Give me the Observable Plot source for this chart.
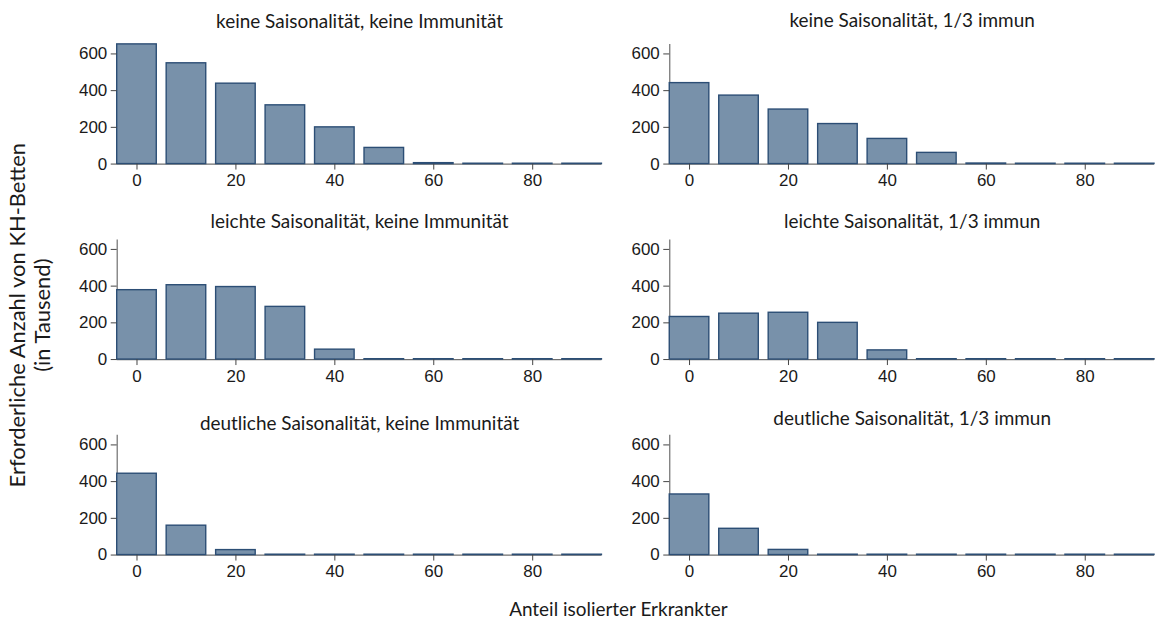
<!DOCTYPE html>
<html><head><meta charset="utf-8">
<script src="https://cdn.jsdelivr.net/npm/d3@7"></script>
<script src="https://cdn.jsdelivr.net/npm/@observablehq/plot@0.6"></script>
<style>
html,body{margin:0;padding:0;background:#fff;overflow:hidden;}
#chart{width:1155px;height:624px;overflow:hidden;position:relative;}
</style></head><body><div id="chart"></div>
<script>
// ---- data ----
const shares = [0, 10, 20, 30, 40, 50, 60, 70, 80, 90];
const seasonality = ["keine Saisonalität", "leichte Saisonalität", "deutliche Saisonalität"];
const immunity = ["keine Immunität", "1/3 immun"];
const keineKeine     = [652, 549, 438, 320, 200, 88, 5, 2, 2, 2];
const keineImmun     = [441, 373, 297, 218, 137, 61, 3, 2, 2, 2];
const leichteKeine   = [378, 405, 395, 287, 54, 2, 2, 2, 2, 2];
const leichteImmun   = [232, 250, 255, 200, 50, 2, 2, 2, 2, 2];
const deutlicheKeine = [443, 160, 27, 2, 2, 2, 2, 2, 2, 2];
const deutlicheImmun = [330, 143, 28, 2, 2, 2, 2, 2, 2, 2];
const xTicks = [0, 20, 40, 60, 80];
const yTicks = [0, 200, 400, 600];
const xLabel = "Anteil isolierter Erkrankter";
const yLabel = ["Erforderliche Anzahl von KH-Betten", "(in Tausend)"];

const series = [
  [seasonality[0], immunity[0], keineKeine],
  [seasonality[0], immunity[1], keineImmun],
  [seasonality[1], immunity[0], leichteKeine],
  [seasonality[1], immunity[1], leichteImmun],
  [seasonality[2], immunity[0], deutlicheKeine],
  [seasonality[2], immunity[1], deutlicheImmun]
];
const rows = series.flatMap(([season, immun, vals]) =>
  vals.map((v, i) => ({season, immun, x: shares[i], y: v})));
const titles = series.map(([season, immun]) => ({season, immun, title: season + ", " + immun}));

// ---- layout / style ----
const tickFont = "'Liberation Sans', Arial, sans-serif";
const textFont = "Lato, 'Open Sans', sans-serif";
const barFill = "#7891aa";
const barStroke = "#2c4e75";
const axisColor = "#6e6e6e";
const halfBar = 4;
// vertical title offset per panel (relative to top of each panel)
const titleShift = {
  "keine Saisonalität|keine Immunität": -22.5,
  "keine Saisonalität|1/3 immun": -24,
  "leichte Saisonalität|keine Immunität": -17.5,
  "leichte Saisonalität|1/3 immun": -18.5,
  "deutliche Saisonalität|keine Immunität": -11.5,
  "deutliche Saisonalität|1/3 immun": -16.5
};

const titleMarks = titles.map(t => Plot.text([t], {
  fx: "immun", fy: "season", text: "title",
  frameAnchor: "top", lineAnchor: "middle", dy: titleShift[t.season + "|" + t.immun],
  fontFamily: textFont, fontSize: 19, fill: "#1a1a1a"
}));

const plot = Plot.plot({
  width: 1158,
  height: 624,
  marginLeft: 117,
  marginRight: 0,
  marginTop: 42.7,
  marginBottom: 67,
  x: {domain: [-halfBar, 94]},
  y: {domain: [0, 652]},
  fx: {domain: immunity, paddingInner: 0.1226, paddingOuter: 0, axis: null},
  fy: {domain: seasonality, paddingInner: 0.387, paddingOuter: 0, axis: null},
  style: {background: "#fff", overflow: "visible"},
  marks: [
    Plot.ruleX([-halfBar], {stroke: axisColor, strokeWidth: 1.2}),
    Plot.ruleY([0], {stroke: axisColor, strokeWidth: 1.2}),
    Plot.rectY(rows, {
      x1: d => d.x - halfBar, x2: d => d.x + halfBar, y: "y",
      fx: "immun", fy: "season",
      fill: barFill, stroke: barStroke, strokeWidth: 1.4
    }),
    Plot.axisX({
      ticks: xTicks, tickSize: 6, tickPadding: 4, label: null, facetAnchor: null,
      fontSize: 17, fontFamily: tickFont, stroke: "#444", fill: "#1a1a1a"
    }),
    Plot.axisY({
      ticks: yTicks, tickSize: 6, tickPadding: 4, label: null, facetAnchor: null,
      fontSize: 17, fontFamily: tickFont, stroke: "#444", fill: "#1a1a1a"
    }),
    ...titleMarks
  ]
});

const svg = d3.select(plot);
svg.append("text")
  .attr("x", 620).attr("y", 618)
  .attr("text-anchor", "middle")
  .attr("font-family", textFont).attr("font-size", 19).attr("fill", "#1a1a1a")
  .text(xLabel);
const yl = svg.append("g").attr("transform", "translate(25,316) rotate(-90)");
yLabel.forEach((line, i) => {
  yl.append("text")
    .attr("x", 0).attr("y", i * 25)
    .attr("text-anchor", "middle")
    .attr("font-family", textFont).attr("font-size", 22).attr("fill", "#1a1a1a")
    .text(line);
});

document.getElementById("chart").appendChild(plot);
</script>
</body></html>
